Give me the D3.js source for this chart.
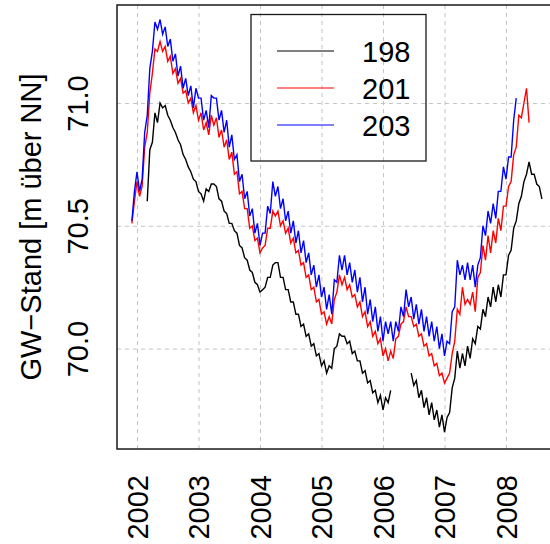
<!DOCTYPE html>
<html>
<head>
<meta charset="utf-8">
<script src="https://cdn.jsdelivr.net/npm/d3@7"></script>
<style>
  html, body { margin: 0; padding: 0; background: #fff; }
  svg { display: block; }
  text { font-family: "Liberation Sans", Arial, sans-serif; }
</style>
</head>
<body>
<svg id="chart" width="550" height="544"></svg>
<script>
// ---- data (half-monthly samples starting Dec 2001) ----
const sampleStart = 2001 + 11 / 12;   // first sample (decimal year)
const samplesPerYear = 24;            // half-monthly

const seriesNames = ["198", "201", "203"];
const seriesColors = ["#000000", "#ff0000", "#0000ff"];

const xTickYears = [2002, 2003, 2004, 2005, 2006, 2007, 2008];
const yTickValues = [70.0, 70.5, 71.0];
const yAxisTitle = "GW\u2212Stand [m über NN]";

const values198 = [
  null, null, null, null, null, null, 70.60, 70.81, 70.84, 70.96,
  70.92, 71.00, 70.98, 70.99, 70.95, 70.93, 70.90, 70.88, 70.85, 70.83,
  70.79, 70.77, 70.74, 70.72, 70.69, 70.68, 70.64, 70.63, 70.60, 70.65,
  70.64, 70.67, 70.67, 70.66, 70.61, 70.60, 70.56, 70.55, 70.51, 70.51,
  70.48, 70.47, 70.42, 70.41, 70.37, 70.36, 70.32, 70.31, 70.27, 70.26,
  70.23, 70.24, 70.25, 70.29, 70.29, 70.34, 70.35, 70.35, 70.29, 70.29,
  70.24, 70.24, 70.19, 70.19, 70.14, 70.14, 70.09, 70.10, 70.05, 70.06,
  70.01, 70.02, 69.97, 69.98, 69.93, 69.95, 69.90, 69.93, 69.92, 70.00,
  70.01, 70.06, 70.05, 70.05, 70.02, 70.03, 69.98, 69.99, 69.95, 69.95,
  69.90, 69.91, 69.86, 69.87, 69.82, 69.83, 69.78, 69.81, 69.75, 69.80,
  69.78, 69.83, null, null, null, null, null, null, null, 69.90,
  69.85, 69.87, 69.80, 69.83, 69.76, 69.80, 69.73, 69.78, 69.71, 69.75,
  69.68, 69.73, 69.66, 69.72, 69.74, 69.84, 69.88, 69.99, 69.92, 69.98,
  69.93, 70.01, 69.96, 70.04, 70.02, 70.09, 70.08, 70.16, 70.13, 70.21,
  70.17, 70.25, 70.19, 70.26, 70.21, 70.30, 70.30, 70.38, 70.40, 70.49,
  70.52, 70.59, 70.62, 70.68, 70.71, 70.76, 70.71, 70.71, 70.67, 70.66,
  70.61
];

const values201 = [
  70.51, 70.60, 70.68, 70.62, 70.66, 70.82, 70.88, 71.04, 71.12, 71.22,
  71.21, 71.25, 71.21, 71.23, 71.17, 71.19, 71.12, 71.14, 71.08, 71.10,
  71.04, 71.05, 71.00, 71.02, 70.96, 70.99, 70.93, 70.96, 70.89, 70.92,
  70.87, 70.95, 70.91, 70.94, 70.86, 70.89, 70.82, 70.85, 70.77, 70.80,
  70.71, 70.72, 70.63, 70.64, 70.57, 70.57, 70.49, 70.50, 70.44, 70.45,
  70.39, 70.41, 70.42, 70.49, 70.49, 70.56, 70.54, 70.56, 70.50, 70.52,
  70.47, 70.49, 70.43, 70.45, 70.39, 70.40, 70.34, 70.35, 70.29, 70.30,
  70.24, 70.25, 70.19, 70.20, 70.14, 70.15, 70.10, 70.13, 70.10, 70.20,
  70.23, 70.30, 70.26, 70.29, 70.24, 70.26, 70.21, 70.22, 70.17, 70.19,
  70.13, 70.15, 70.09, 70.11, 70.05, 70.07, 70.02, 70.04, 69.97, 70.00,
  69.95, 69.99, 69.96, 70.04, 70.05, 70.10, 70.11, 70.17, 70.13, 70.13,
  70.09, 70.10, 70.05, 70.06, 70.01, 70.02, 69.97, 69.98, 69.93, 69.94,
  69.89, 69.90, 69.86, 69.88, 69.90, 69.98, 70.03, 70.16, 70.14, 70.25,
  70.18, 70.20, 70.18, 70.23, 70.15, 70.29, 70.31, 70.42, 70.36, 70.46,
  70.39, 70.48, 70.43, 70.53, 70.48, 70.58, 70.58, 70.66, 70.68, 70.79,
  70.82, 70.95, 70.94, 71.00, 71.06, 70.92
];

const values203 = [
  70.52, 70.64, 70.72, 70.64, 70.69, 70.88, 70.95, 71.14, 71.21, 71.33,
  71.30, 71.34, 71.28, 71.31, 71.23, 71.26, 71.17, 71.20, 71.11, 71.15,
  71.06, 71.10, 71.03, 71.07, 70.98, 71.06, 71.02, 71.02, 70.93, 70.97,
  70.90, 71.03, 71.02, 71.02, 70.93, 70.97, 70.88, 70.93, 70.82, 70.87,
  70.77, 70.79, 70.68, 70.71, 70.61, 70.64, 70.54, 70.57, 70.47, 70.51,
  70.42, 70.47, 70.47, 70.58, 70.55, 70.68, 70.62, 70.66, 70.57, 70.61,
  70.52, 70.56, 70.47, 70.52, 70.43, 70.48, 70.39, 70.44, 70.35, 70.39,
  70.30, 70.34, 70.25, 70.30, 70.21, 70.25, 70.16, 70.22, 70.14, 70.28,
  70.27, 70.38, 70.32, 70.38, 70.30, 70.35, 70.27, 70.32, 70.23, 70.29,
  70.19, 70.25, 70.14, 70.20, 70.11, 70.17, 70.07, 70.13, 70.03, 70.11,
  70.06, 70.11, 70.03, 70.11, 70.07, 70.17, 70.13, 70.24, 70.17, 70.21,
  70.12, 70.18, 70.10, 70.16, 70.07, 70.13, 70.05, 70.11, 70.03, 70.09,
  70.00, 70.06, 69.97, 70.03, 70.02, 70.15, 70.17, 70.36, 70.30, 70.34,
  70.28, 70.35, 70.28, 70.34, 70.25, 70.34, 70.37, 70.50, 70.46, 70.56,
  70.51, 70.59, 70.53, 70.64, 70.64, 70.74, 70.69, 70.78, 70.78, 70.93,
  71.02
];

const seriesValues = [values198, values201, values203];

// ---- layout ----
const svg = d3.select("#chart");
const plot = { left: 117, top: 5, right: 562, bottom: 449 };
const fontSize = 29;

const x = d3.scaleLinear()
  .domain([2002 - 20 / 61.5, 2002 + (plot.right - 137) / 61.5])
  .range([plot.left, plot.right]);
const y = d3.scaleLinear()
  .domain([70 - (plot.bottom - 348.6) / 245.6, 71 + (103 - plot.top) / 245.6])
  .range([plot.bottom, plot.top]);

// grid (dashed)
const gridX = svg.append("g")
  .attr("transform", `translate(0,${plot.bottom})`)
  .call(d3.axisBottom(x).tickValues(xTickYears).tickSize(-(plot.bottom - plot.top)).tickFormat(""));
const gridY = svg.append("g")
  .attr("transform", `translate(${plot.left},0)`)
  .call(d3.axisLeft(y).tickValues(yTickValues).tickSize(-(plot.right - plot.left)).tickFormat(""));
[gridX, gridY].forEach(g => {
  g.select(".domain").remove();
  g.selectAll(".tick line")
    .attr("stroke", "#c4c4c4")
    .attr("stroke-width", 1)
    .attr("stroke-dasharray", "4,4");
});

// series lines
const line = d3.line()
  .defined(d => d.v !== null)
  .x(d => x(d.t))
  .y(d => y(d.v));

seriesValues.forEach((vals, k) => {
  const pts = vals.map((v, i) => ({ t: sampleStart + i / samplesPerYear, v }));
  svg.append("path")
    .datum(pts)
    .attr("fill", "none")
    .attr("stroke", seriesColors[k])
    .attr("stroke-width", 1.4)
    .attr("stroke-linejoin", "miter")
    .attr("d", line);
});

// plot box
svg.append("rect")
  .attr("x", plot.left).attr("y", plot.top)
  .attr("width", plot.right - plot.left).attr("height", plot.bottom - plot.top)
  .attr("fill", "none").attr("stroke", "#1a1a1a").attr("stroke-width", 1.5);

// x axis labels
const xAxis = svg.append("g")
  .attr("transform", `translate(0,${plot.bottom})`)
  .call(d3.axisBottom(x).tickValues(xTickYears).tickSize(0).tickFormat(d3.format("d")));
xAxis.select(".domain").remove();
xAxis.selectAll(".tick text")
  .attr("font-family", "'Liberation Sans', Arial, sans-serif")
  .attr("font-size", fontSize)
  .attr("fill", "#000")
  .attr("transform", "rotate(-90)")
  .attr("x", -(475 - plot.bottom))
  .attr("y", 0)
  .attr("dy", "0.36em")
  .attr("text-anchor", "end");

// y axis labels
const yAxis = svg.append("g")
  .attr("transform", `translate(${plot.left},0)`)
  .call(d3.axisLeft(y).tickValues(yTickValues).tickSize(0).tickFormat(d3.format(".1f")));
yAxis.select(".domain").remove();
yAxis.selectAll(".tick text")
  .attr("font-family", "'Liberation Sans', Arial, sans-serif")
  .attr("font-size", fontSize)
  .attr("fill", "#000")
  .attr("transform", "rotate(-90)")
  .attr("x", 0)
  .attr("y", -(plot.left - 88))
  .attr("dy", 0)
  .attr("text-anchor", "middle");

// y axis title
svg.append("text")
  .attr("transform", `translate(41,${(plot.top + plot.bottom) / 2}) rotate(-90)`)
  .attr("text-anchor", "middle")
  .attr("font-size", fontSize)
  .attr("fill", "#000")
  .text(yAxisTitle);

// legend
const legend = svg.append("g");
legend.append("rect")
  .attr("x", 251).attr("y", 14.5).attr("width", 175).attr("height", 146.5)
  .attr("fill", "none").attr("stroke", "#1a1a1a").attr("stroke-width", 1.3);
seriesNames.forEach((name, k) => {
  const yy = 51 + k * 37;
  legend.append("line")
    .attr("x1", 277).attr("x2", 334).attr("y1", yy).attr("y2", yy)
    .attr("stroke", seriesColors[k]).attr("stroke-width", 1.2);
  legend.append("text")
    .attr("x", 362).attr("y", yy + 11)
    .attr("font-size", fontSize)
    .attr("fill", "#000")
    .text(name);
});
</script>
</body>
</html>
